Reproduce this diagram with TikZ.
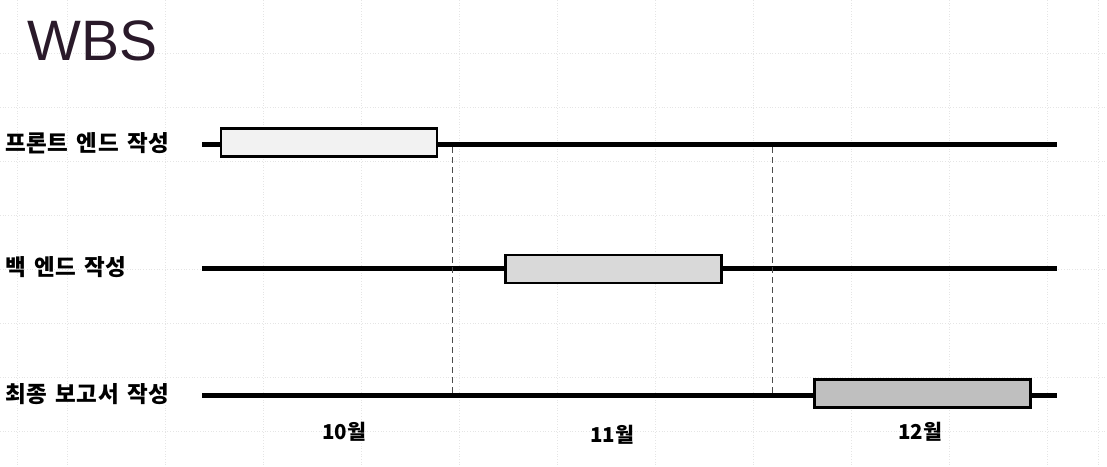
\documentclass[tikz,border=0pt]{standalone}
\usepackage{fontspec}
\setmainfont{Liberation Sans}
\newfontfamily\kr{Noto Sans CJK KR}
\newfontfamily\krwide[WordSpace=1.4,LetterSpace=3]{Noto Sans CJK KR}
\definecolor{titleink}{RGB}{42,26,42}
\begin{document}
\begin{tikzpicture}[x=1pt,y=-1pt,
  gridline/.style={draw=black!10,line width=0.7pt,dotted},
  track/.style={line width=5pt},
  taskbox/.style={draw=black,line width=2.2pt,minimum height=28pt,minimum width=216pt,inner sep=0pt},
  divider/.style={draw=black!70,line width=0.8pt,dash pattern=on 6pt off 4pt},
  rowlabel/.style={anchor=west,inner sep=0pt,font=\krwide\bfseries\fontsize{22.5}{22.5}\selectfont},
  month/.style={inner sep=0pt,font=\kr\bfseries\fontsize{20.5}{20.5}\selectfont}]
\useasboundingbox (0,0) rectangle (1107,466);
% background grid
\foreach \gx in {17,67,165,263,361,459,557,655,753,851,949,1047,1098}
  \draw[gridline] (\gx,0) -- (\gx,466);
\foreach \gy in {53,107,161,215,269,323,377,431}
  \draw[gridline] (0,\gy) -- (1107,\gy);
% title
\node[anchor=west,inner sep=0pt,text=titleink,font=\fontsize{57}{57}\selectfont] (title) at (27,41) {WBS};
% row labels
\node[rowlabel] (l1) at (5,143) {프론트 엔드 작성};
\node[rowlabel] (l2) at (5,267) {백 엔드 작성};
\node[rowlabel] (l3) at (5,394) {최종 보고서 작성};
% track ends
\coordinate (a1) at (202,144); \coordinate (b1) at (1057,144);
\coordinate (a2) at (202,268); \coordinate (b2) at (1057,268);
\coordinate (a3) at (202,395); \coordinate (b3) at (1057,395);
\draw[track] (a1) -- (b1);
\draw[track] (a2) -- (b2);
\draw[track] (a3) -- (b3);
% dividers
\coordinate (d1t) at (452.5,147); \coordinate (d1b) at (452.5,393);
\coordinate (d2t) at (772,147); \coordinate (d2b) at (772,393);
\draw[divider] (d1t) -- (d1b);
\draw[divider] (d2t) -- (d2b);
% task boxes
\node[taskbox,fill=black!5] (t1) at (329,142.5) {};
\node[taskbox,fill=black!15] (t2) at (613.5,269) {};
\node[taskbox,fill=black!25] (t3) at (922.5,393.5) {};
% months
\node[month] (m1) at (344,432) {10월};
\node[month] (m2) at (612,435) {11월};
\node[month] (m3) at (920,432) {12월};
\end{tikzpicture}
\end{document}
